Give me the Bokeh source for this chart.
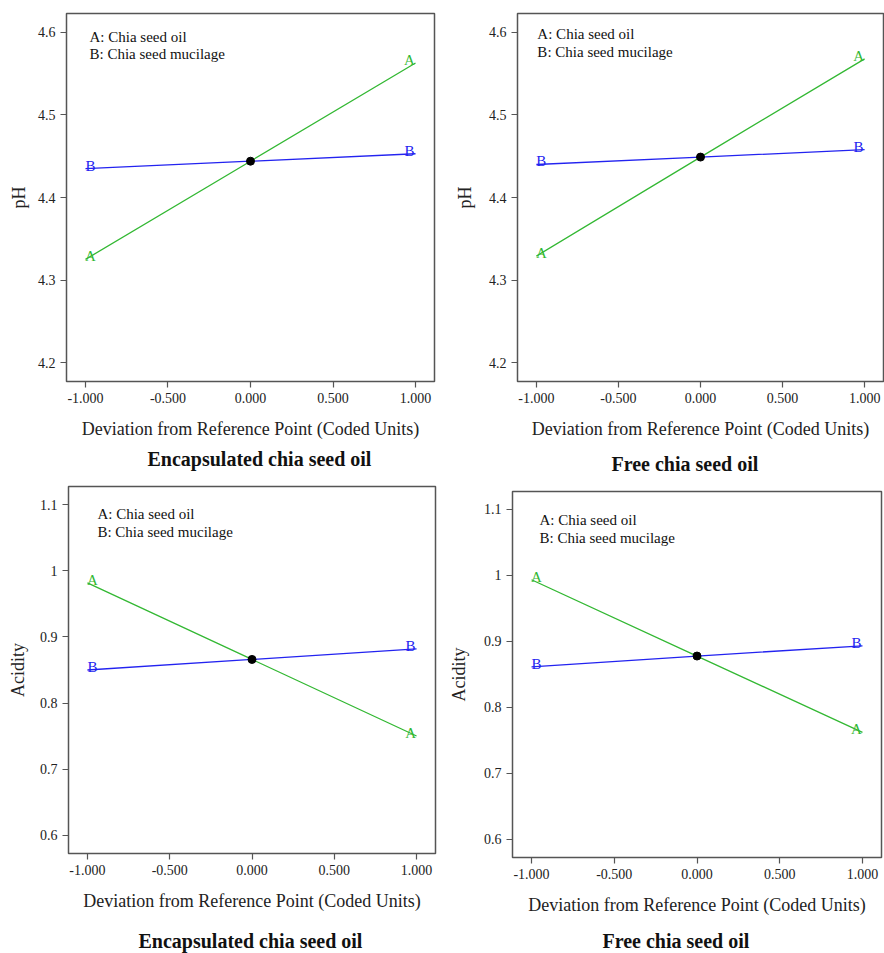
from bokeh.plotting import figure
from bokeh.layouts import row, column
from bokeh.models import FixedTicker, CustomJSTickFormatter, Range1d, Title
from bokeh.embed import file_html
from bokeh.resources import INLINE
from bokeh.core.properties import value

# ---- data ----
coded_x = [-1.0, 0.0, 1.0]

enc_ph_A = [4.325, 4.444, 4.563]
enc_ph_B = [4.435, 4.444, 4.453]
enc_ph_ref = 4.444

free_ph_A = [4.329, 4.449, 4.568]
free_ph_B = [4.440, 4.449, 4.458]
free_ph_ref = 4.449

enc_ac_A = [0.982, 0.866, 0.750]
enc_ac_B = [0.850, 0.866, 0.882]
enc_ac_ref = 0.866

free_ac_A = [0.993, 0.8775, 0.762]
free_ac_B = [0.861, 0.8775, 0.893]
free_ac_ref = 0.8775

x_ticks = [-1.0, -0.5, 0.0, 0.5, 1.0]
ph_ticks = [4.2, 4.3, 4.4, 4.5, 4.6]
ac_ticks = [0.6, 0.7, 0.8, 0.9, 1.0, 1.1]

factor_names = ["A: Chia seed oil", "B: Chia seed mucilage"]
x_title = "Deviation from Reference Point (Coded Units)"

FONT = "Liberation Serif"
GREEN = "#33b833"
BLUE = "#2323f0"
FRAME = "#555555"


def panel(A, B, ref, yticks, yrange, ylabel, subtitle, width, height,
          borders, leg_dx, leg_dy, ylab_standoff, gap, sub_dx):
    left, right, top, bottom = borders
    p = figure(width=width, height=height, output_backend="svg",
               toolbar_location=None,
               x_range=Range1d(-1.115, 1.115), y_range=Range1d(*yrange),
               min_border_left=left, min_border_right=right,
               min_border_top=top, min_border_bottom=bottom)
    p.grid.visible = False
    p.outline_line_color = FRAME
    p.outline_line_width = 1.5
    p.background_fill_color = "white"
    p.border_fill_color = "white"

    for ax in (p.xaxis[0], p.yaxis[0]):
        ax.axis_line_color = None
        ax.major_tick_line_color = FRAME
        ax.major_tick_line_width = 1.2
        ax.major_tick_out = 6
        ax.major_tick_in = 0
        ax.minor_tick_line_color = None
        ax.major_label_text_font = FONT
        ax.major_label_text_font_size = "14px"
        ax.major_label_text_color = "#222222"
        ax.axis_label_text_font = FONT
        ax.axis_label_text_font_size = "18px"
        ax.axis_label_text_font_style = "normal"
        ax.axis_label_text_color = "#222222"

    p.xaxis.ticker = FixedTicker(ticks=x_ticks)
    p.xaxis.formatter = CustomJSTickFormatter(code="return tick.toFixed(3);")
    p.xaxis.axis_label = x_title
    p.xaxis.axis_label_standoff = 13

    p.yaxis.ticker = FixedTicker(ticks=yticks)
    p.yaxis.formatter = CustomJSTickFormatter(code="return String(Math.round(tick*10)/10);")
    p.yaxis.axis_label = ylabel
    p.yaxis.axis_label_standoff = ylab_standoff

    # perturbation lines
    p.line(coded_x, A, line_color=GREEN, line_width=1.3)
    p.line(coded_x, B, line_color=BLUE, line_width=1.3)
    p.scatter([0.0], [ref], size=8, fill_color="black", line_color="black")

    # end letters
    for vals, letter, col in ((A, "A", GREEN), (B, "B", BLUE)):
        p.text(x=[coded_x[0]], y=[vals[0]], text=[letter], x_offset=5, y_offset=-3,
               text_align="center", text_baseline="alphabetic",
               text_font=value(FONT), text_font_size="15px", text_color=col)
        p.text(x=[coded_x[-1]], y=[vals[-1]], text=[letter], x_offset=-6, y_offset=-3,
               text_align="center", text_baseline="alphabetic",
               text_font=value(FONT), text_font_size="15px", text_color=col)

    # factor legend
    for name, dy in zip(factor_names, leg_dy):
        p.text(x=[coded_x[0]], y=[yticks[-1]], text=[name], x_offset=leg_dx, y_offset=dy,
               text_align="left", text_baseline="middle",
               text_font=value(FONT), text_font_size="15px", text_color="#111111")

    # caption under the axis title: thin spacer, then the bold caption
    p.add_layout(Title(text=" ", text_font_size="1px", standoff=gap), "below")
    p.add_layout(Title(text=subtitle, align="left", offset=sub_dx, standoff=0,
                       text_font=FONT, text_font_size="20px", text_font_style="bold",
                       text_color="#111111"), "below")
    return p


p1 = panel(enc_ph_A, enc_ph_B, enc_ph_ref, ph_ticks, (4.177, 4.623), "pH",
           "Encapsulated chia seed oil", 440, 477, (66, 6, 13, 96),
           4, (5, 22), 6, 1, 81)
p2 = panel(free_ph_A, free_ph_B, free_ph_ref, ph_ticks, (4.177, 4.623), "pH",
           "Free chia seed oil", 444, 477, (77, 1, 13, 96),
           1, (2, 20), 11, 6, 94)
p3 = panel(enc_ac_A, enc_ac_B, enc_ac_ref, ac_ticks, (0.572, 1.128), "Acidity",
           "Encapsulated chia seed oil", 440, 476, (68, 5, 9, 100),
           10, (9, 27), 9, 11, 70)
p4 = panel(free_ac_A, free_ac_B, free_ac_ref, ac_ticks, (0.5724, 1.1267), "Acidity",
           "Free chia seed oil", 444, 476, (72, 3, 14, 96),
           8, (11, 29), 12, 7, 90)

layout = column(row(column(p1), column(p2)), row(column(p3), column(p4)))
open("out.html", "w").write(file_html(layout, INLINE))
